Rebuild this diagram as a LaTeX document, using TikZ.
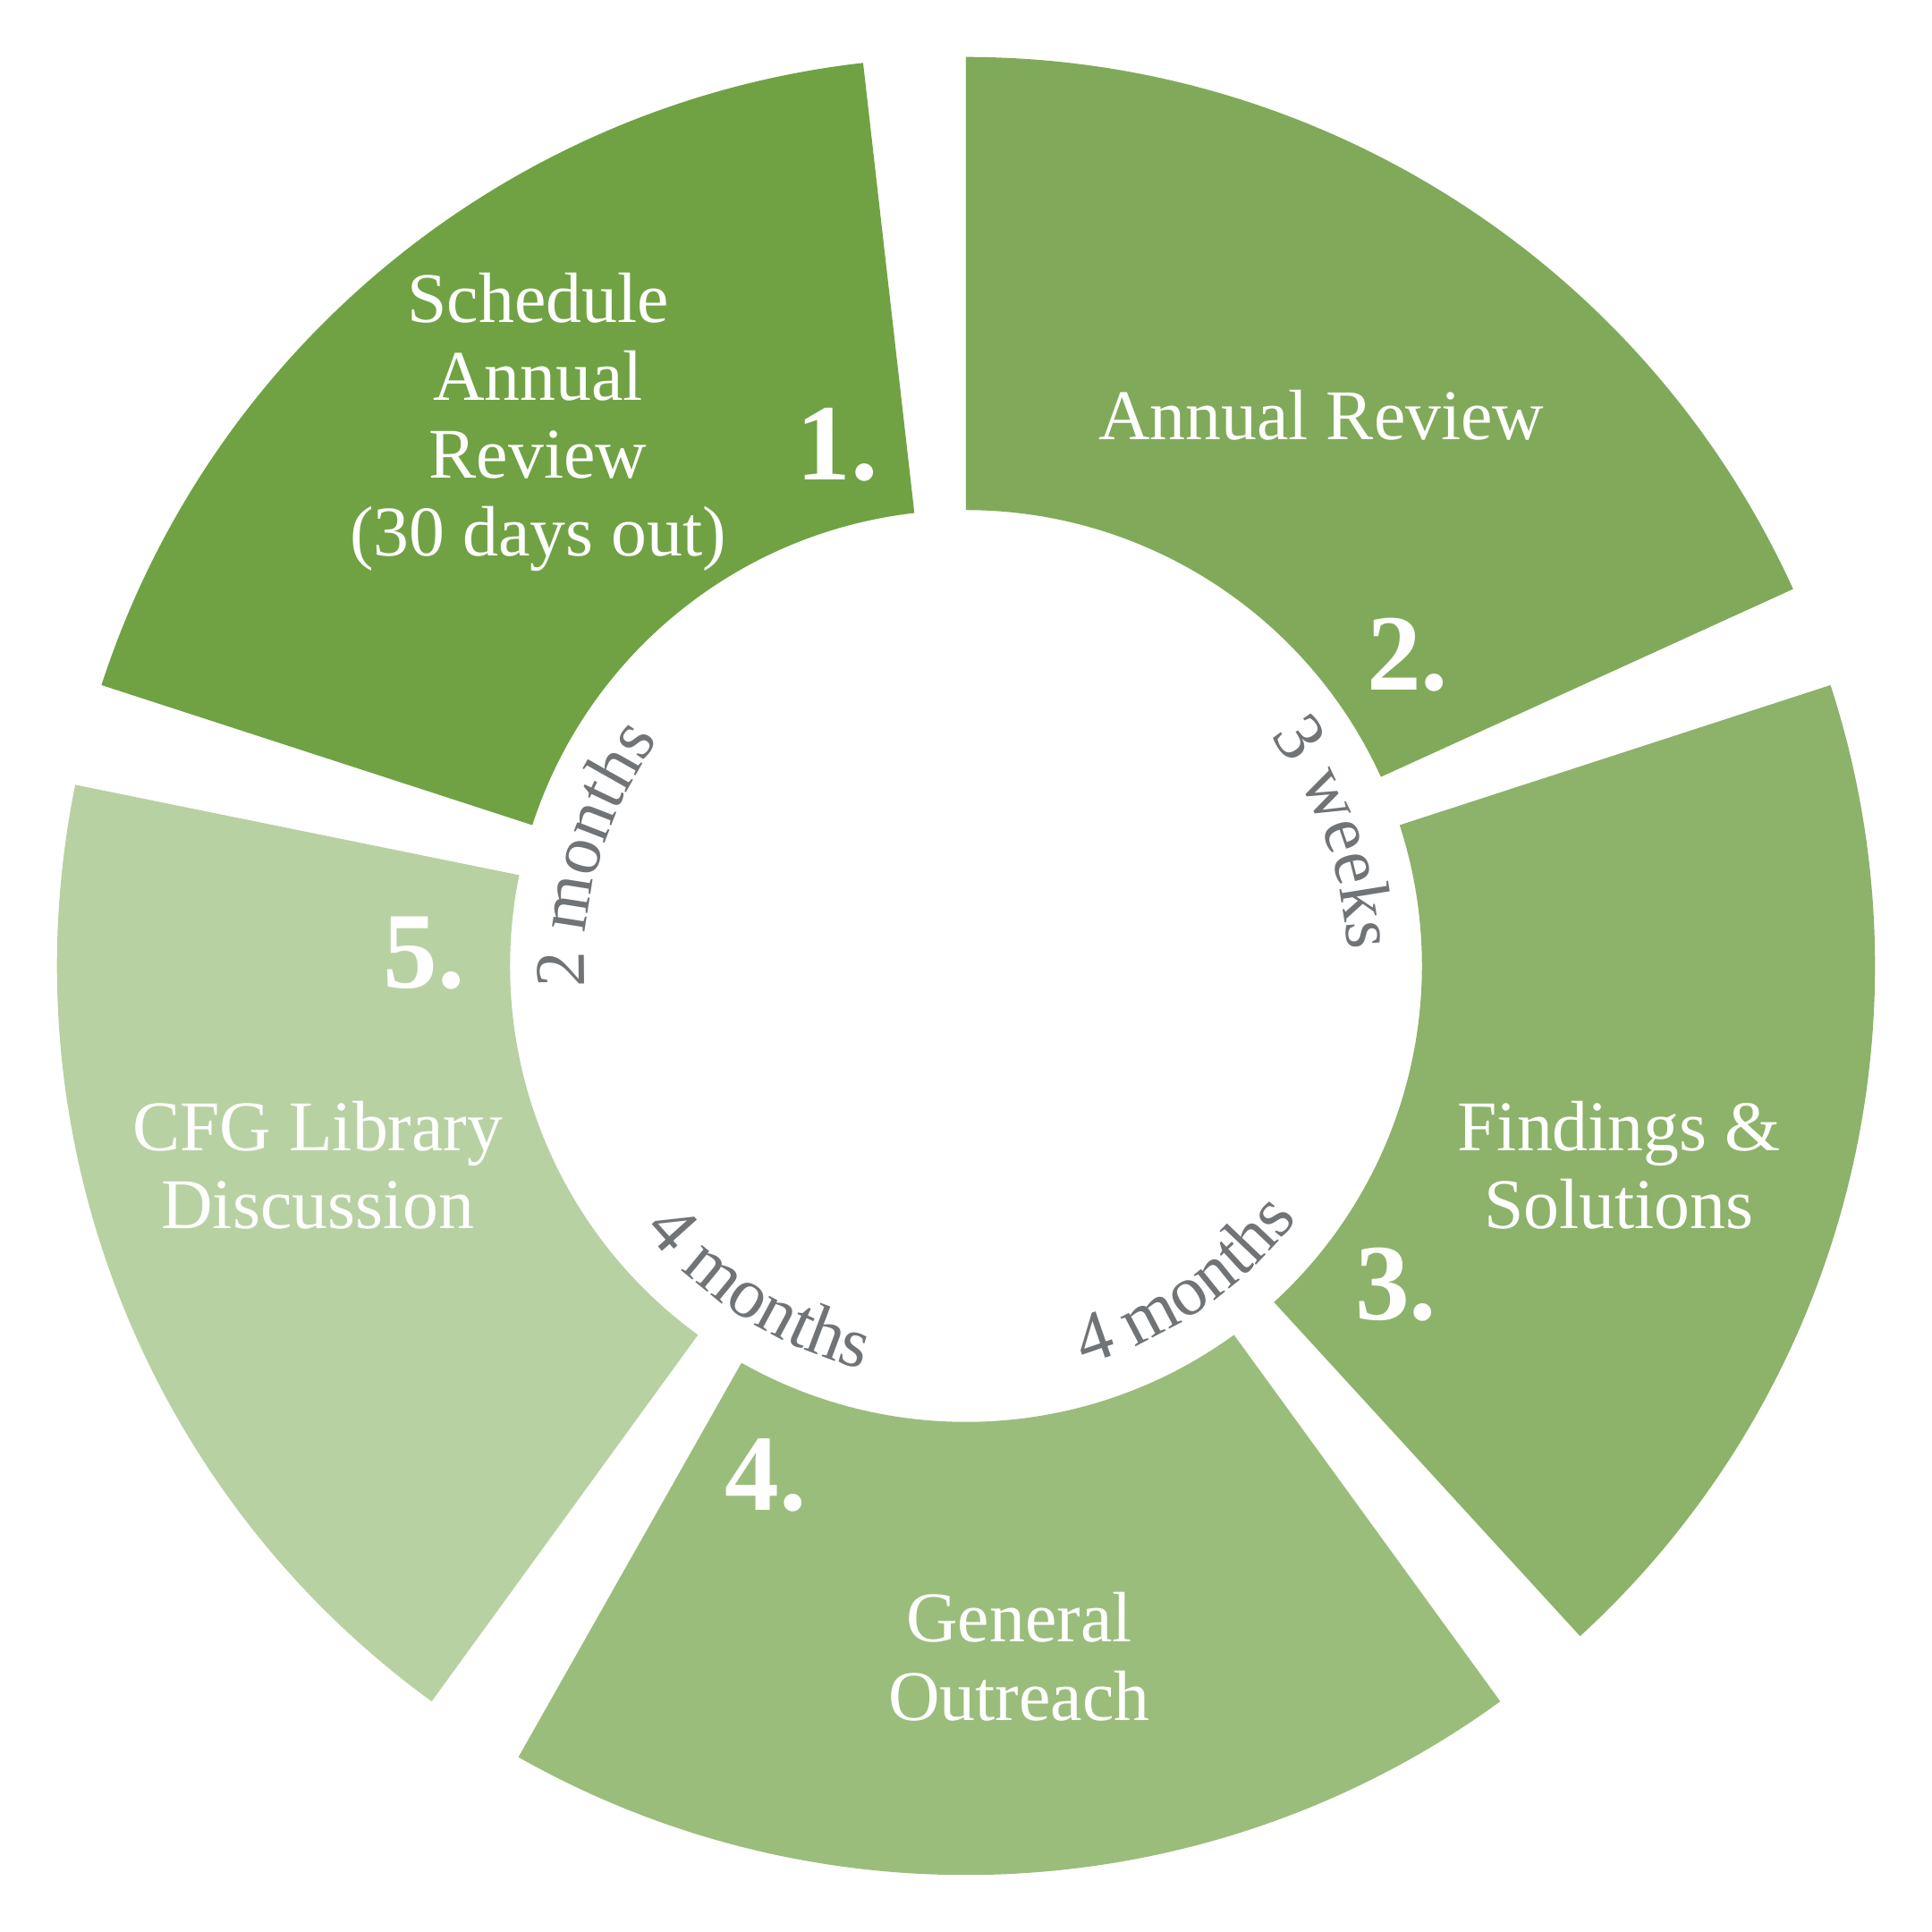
\documentclass[tikz,border=0pt]{standalone}
\usepackage{fontspec}
\setmainfont{Liberation Serif}
\usetikzlibrary{decorations.text}

\definecolor{stepone}{HTML}{70A244}
\definecolor{steptwo}{HTML}{80AA5A}
\definecolor{stepthree}{HTML}{8DB26A}
\definecolor{stepfour}{HTML}{9BBD7B}
\definecolor{stepfive}{HTML}{B8D1A3}
\definecolor{gaptext}{HTML}{707477}

\newcommand{\gapfont}{\fontsize{21}{24}\selectfont}

\tikzset{
  ringtext/.style={text=white,font=\fontsize{21}{23}\selectfont,align=center},
  stepnum/.style={text=white,font=\fontsize{32}{34}\selectfont\bfseries,anchor=base},
  gaplabel/.style={decorate,decoration={text along path,text align=center,text color=gaptext}}
}

\begin{document}
\begin{tikzpicture}
  \useasboundingbox (-10,-10) rectangle (10,10);
  % ring segments, clockwise from the top
  \foreach \a/\col in {90/steptwo,18/stepthree,-54/stepfour,-126/stepfive,-198/stepone}{
    \fill[\col] (\a:9.41) arc[start angle=\a,delta angle=-65.5,radius=9.41]
      -- ({\a-65.5}:4.72) arc[start angle={\a-65.5},delta angle=65.5,radius=4.72] -- cycle;
  }

  \node[ringtext] (sched) at (-4.43,5.63) {Schedule\\Annual\\Review\\(30 days out)};
  \node[ringtext,anchor=base] (review) at (3.68,5.45) {Annual Review};
  \node[ringtext] (findings) at (6.76,-2.06) {Findings \&\\Solutions};
  \node[ringtext] (outreach) at (0.55,-7.15) {General\\Outreach};
  \node[ringtext] (library) at (-6.71,-2.06) {CFG Library\\Discussion};

  \foreach \n/\x/\y in {1/-1.33/5.03,2/4.57/2.86,3/4.45/-3.66,4/-2.07/-5.63,5/-5.61/-0.23}
    \node[stepnum] (num\n) at (\x,\y) {\n.};

  % durations along the hole
  \path[gaplabel,decoration={text={|\gapfont|2 months}}] (193.4:3.95) arc[start angle=193.4,delta angle=-60,radius=3.95];
  \path[gaplabel,decoration={text={|\gapfont|3 weeks}}] (49.7:3.95) arc[start angle=49.7,delta angle=-60,radius=3.95];
  \path[gaplabel,decoration={text={|\gapfont|4 months}}] (-85.4:4.31) arc[start angle=-85.4,delta angle=60,radius=4.31];
  \path[gaplabel,decoration={text={|\gapfont|4 months}}] (-152.5:4.31) arc[start angle=-152.5,delta angle=60,radius=4.31];
\end{tikzpicture}
\end{document}
